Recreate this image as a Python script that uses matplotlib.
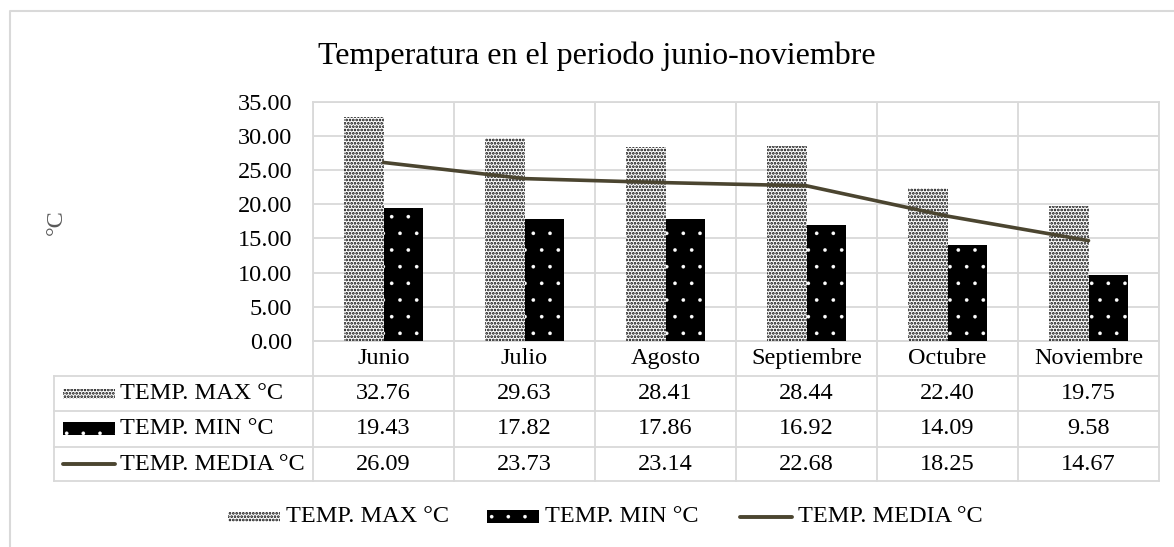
import matplotlib
matplotlib.use('Agg')
import matplotlib.pyplot as plt
from matplotlib.patches import Rectangle
import numpy as np

# ---------------- data ----------------
months = ['Junio', 'Julio', 'Agosto', 'Septiembre', 'Octubre', 'Noviembre']
temp_max = [32.76, 29.63, 28.41, 28.44, 22.40, 19.75]
temp_min = [19.43, 17.82, 17.86, 16.92, 14.09, 9.58]
temp_media = [26.09, 23.73, 23.14, 22.68, 18.25, 14.67]
series_labels = ['TEMP. MAX °C', 'TEMP. MIN °C', 'TEMP. MEDIA °C']
y_ticks = [0, 5, 10, 15, 20, 25, 30, 35]
title = 'Temperatura en el periodo junio-noviembre'
y_label = '°C'

# ---------------- style ----------------
plt.rcParams['font.family'] = ['Liberation Serif', 'DejaVu Serif']
GRID = '#d9d9d9'
LINE_C = '#4b4530'
FS = 17.5
HATCH_MAX = '.....'
HATCH_MIN = '.'
HLW_MAX = 1.3
HLW_MIN = 0.2

W, H = 1174, 547
fig = plt.figure(figsize=(W / 100, H / 100), dpi=100)

# plot-area geometry in pixels
PL, PR, PT, PB = 313, 1159, 101.5, 341
ax = fig.add_axes([PL / W, 1 - PB / H, (PR - PL) / W, (PB - PT) / H])
ax.set_facecolor('none')

n = len(months)
x = np.arange(n) + 0.5
bw = 0.28
with plt.rc_context({'hatch.linewidth': HLW_MAX}):
    ax.bar(x - bw / 2, temp_max, width=bw, facecolor='white', edgecolor='black',
           hatch=HATCH_MAX, linewidth=0, zorder=3)
with plt.rc_context({'hatch.linewidth': HLW_MIN}):
    ax.bar(x + bw / 2, temp_min, width=bw, facecolor='black', edgecolor='white',
           hatch=HATCH_MIN, linewidth=0, zorder=3)
ax.plot(x, temp_media, color=LINE_C, lw=2.6, zorder=4, solid_capstyle='round')

ax.set_xlim(0, n)
ax.set_ylim(0, 35)
ax.set_xticks(np.arange(n + 1))
ax.set_xticklabels([])
ax.set_yticks(y_ticks)
ax.set_yticklabels([f'{v:.2f}' for v in y_ticks], fontsize=FS)
ax.tick_params(axis='both', length=0)
ax.tick_params(axis='y', pad=15)
ax.grid(True, color=GRID, lw=1.3, zorder=0)
for s in ax.spines.values():
    s.set_color(GRID)
    s.set_linewidth(1.3)

# ---------------- overlay (table, legend, title) ----------------
ov = fig.add_axes([0, 0, 1, 1], zorder=-1)
ov.set_xlim(0, W)
ov.set_ylim(H, 0)
ov.axis('off')

# outer chart border
ov.plot([10, 10, W + 5], [H + 5, 11, 11], color=GRID, lw=1.5)

# title & y label
ov.text(597, 56, title, fontsize=23, ha='center', va='center')
ov.text(56, 222, y_label, fontsize=FS, ha='center', va='center',
        rotation=90, color='#595959')

# table geometry
TL = 54
rows_y = [341, 376, 411, 447, 481]
cw = (PR - PL) / n
col_x = [PL + i * cw for i in range(n + 1)]

ov.plot([PL, PR], [rows_y[0]] * 2, color=GRID, lw=1.3)
for yy in rows_y[1:]:
    ov.plot([TL, PR], [yy, yy], color=GRID, lw=1.3)
ov.plot([TL, TL], [rows_y[1], rows_y[-1]], color=GRID, lw=1.3)
for xx in col_x:
    ov.plot([xx, xx], [rows_y[0], rows_y[-1]], color=GRID, lw=1.3)

for i, m in enumerate(months):
    ov.text(col_x[i] + cw / 2, (rows_y[0] + rows_y[1]) / 2, m, fontsize=FS,
            ha='center', va='center')

for r, vals in enumerate([temp_max, temp_min, temp_media]):
    yc = (rows_y[r + 1] + rows_y[r + 2]) / 2
    for i, v in enumerate(vals):
        ov.text(col_x[i] + cw / 2, yc, f'{v:.2f}', fontsize=FS,
                ha='center', va='center')


def swatch(kind, x0, yc, w=52):
    if kind == 0:
        with plt.rc_context({'hatch.linewidth': HLW_MAX}):
            ov.add_patch(Rectangle((x0, yc - 5), w, 10, facecolor='white',
                                   edgecolor='black', hatch=HATCH_MAX, lw=0))
    elif kind == 1:
        with plt.rc_context({'hatch.linewidth': HLW_MIN}):
            ov.add_patch(Rectangle((x0, yc - 7), w, 13, facecolor='black',
                                   edgecolor='white', hatch=HATCH_MIN, lw=0))
    else:
        ov.plot([x0, x0 + w], [yc, yc], color=LINE_C, lw=2.8,
                solid_capstyle='round')


for r, lab in enumerate(series_labels):
    yc = (rows_y[r + 1] + rows_y[r + 2]) / 2
    swatch(r, 63, yc)
    ov.text(120, yc, lab, fontsize=FS, ha='left', va='center')

LY = 517
leg_x = [228, 487, 740]
for r, lab in enumerate(series_labels):
    swatch(r, leg_x[r], LY)
    ov.text(leg_x[r] + 58, LY, lab, fontsize=FS, ha='left', va='center')

fig.savefig('out.png', dpi=100, facecolor='white')
